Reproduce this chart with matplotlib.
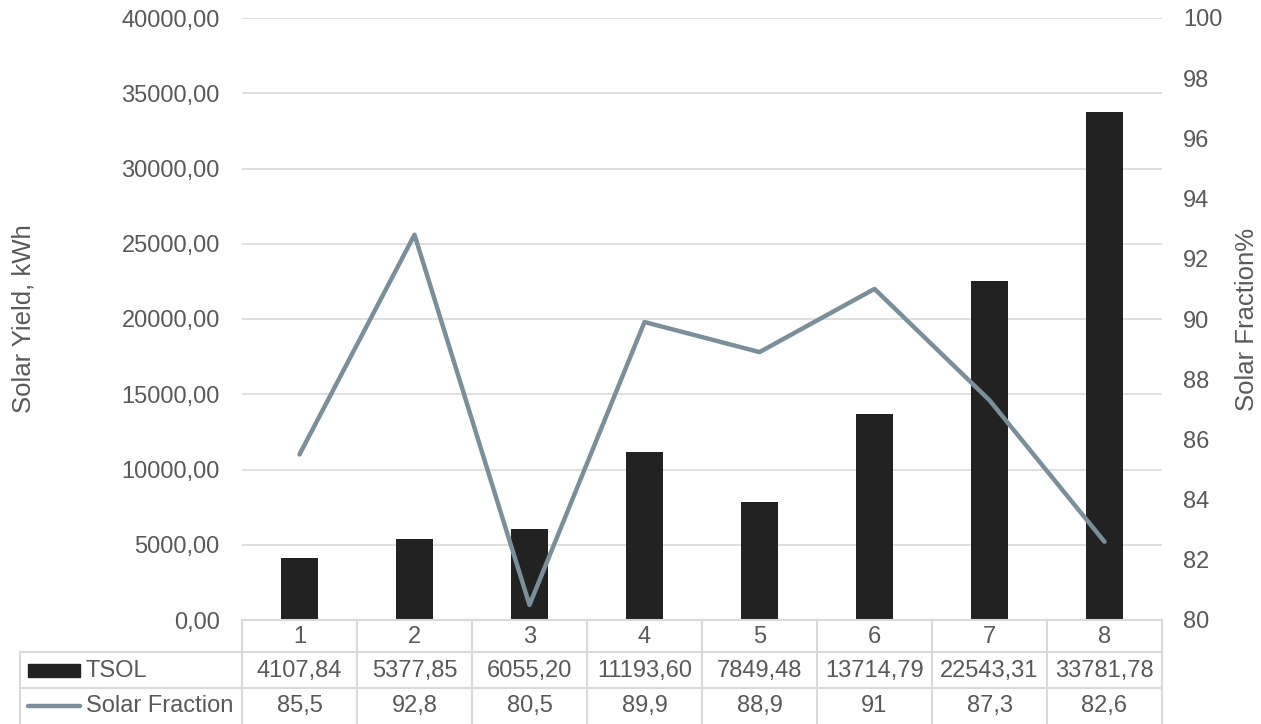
import matplotlib
matplotlib.use("Agg")
import matplotlib.pyplot as plt
from matplotlib.ticker import FuncFormatter
from matplotlib.patches import Rectangle
from matplotlib.lines import Line2D

categories = ["1", "2", "3", "4", "5", "6", "7", "8"]
tsol = [4107.84, 5377.85, 6055.20, 11193.60, 7849.48, 13714.79, 22543.31, 33781.78]
tsol_labels = ["4107,84", "5377,85", "6055,20", "11193,60", "7849,48", "13714,79", "22543,31", "33781,78"]
solar_fraction = [85.5, 92.8, 80.5, 89.9, 88.9, 91, 87.3, 82.6]
sf_labels = ["85,5", "92,8", "80,5", "89,9", "88,9", "91", "87,3", "82,6"]

plt.rcParams['font.family'] = ['Liberation Sans', 'DejaVu Sans']
TXT = '#595959'
GRID = '#D9D9D9'
BAR = '#222222'
LINE = '#7A8F99'
FS = 17
FT = 18.5

W, H = 1261, 724
fig = plt.figure(figsize=(W / 100, H / 100), dpi=100)

L, R, T, B = 242, 1162, 18, 620
ax = fig.add_axes([L / W, (H - B) / H, (R - L) / W, (B - T) / H])
x = list(range(len(categories)))
ax.bar(x, tsol, width=0.32, color=BAR, zorder=2)
ax.set_xlim(-0.5, len(categories) - 0.5)
ax.set_ylim(0, 40000)
ax.set_yticks(range(0, 40001, 5000))
ax.yaxis.set_major_formatter(FuncFormatter(lambda v, p: f"{v:.2f}".replace('.', ',')))
ax.grid(axis='y', color=GRID, linewidth=1.2, zorder=0)
for s in ax.spines.values():
    s.set_visible(False)
ax.tick_params(axis='y', length=0, pad=16, labelsize=FS, labelcolor=TXT)
ax.set_xticks([])
ax.set_ylabel("Solar Yield, kWh", fontsize=FT, color=TXT, va='center')
ax.yaxis.set_label_coords(-(L - 23) / (R - L), 0.5)

ax2 = ax.twinx()
ax2.plot(x, solar_fraction, color=LINE, linewidth=3.2, solid_joinstyle='round', solid_capstyle='round', zorder=3)
ax2.set_ylim(80, 100)
ax2.set_yticks(range(80, 101, 2))
for s in ax2.spines.values():
    s.set_visible(False)
ax2.tick_params(axis='y', length=0, pad=15, labelsize=FS, labelcolor=TXT)
ax2.set_ylabel("Solar Fraction%", fontsize=FT, color=TXT, va='center')
ax2.yaxis.set_label_coords(1 + (1247 - R) / (R - L), 0.5)

# data table
tax = fig.add_axes([L / W, 0, (R - L) / W, (H - B) / H])
tax.set_xlim(-0.5, len(categories) - 0.5)
tax.set_ylim(H, B)
tax.axis('off')
px = (R - L) / len(categories)
def dx(p):
    return -0.5 + (p - L) / px
xl = dx(20)
xr = len(categories) - 0.5
rows = [619.5, 652, 688, 726]
kw = dict(color=GRID, linewidth=1.5, clip_on=False)
tax.add_line(Line2D([-0.5, xr], [rows[0], rows[0]], **kw))
for yy in rows[1:]:
    tax.add_line(Line2D([xl, xr], [yy, yy], **kw))
for i in range(len(categories) + 1):
    xx = -0.5 + i
    tax.add_line(Line2D([xx, xx], [rows[0], rows[3]], **kw))
tax.add_line(Line2D([xl, xl], [rows[1], rows[3]], **kw))

for i, c in enumerate(categories):
    tax.text(i, 637, c, ha='center', va='center', fontsize=FS, color=TXT, clip_on=False)
    tax.text(i, 671, tsol_labels[i], ha='center', va='center', fontsize=FS, color=TXT, clip_on=False)
    tax.text(i, 706, sf_labels[i], ha='center', va='center', fontsize=FS, color=TXT, clip_on=False)

tax.add_patch(Rectangle((dx(28), 664), dx(80) - dx(28), 13, color=BAR, clip_on=False))
tax.text(dx(86), 671, "TSOL", ha='left', va='center', fontsize=FS, color=TXT, clip_on=False)
tax.add_line(Line2D([dx(28), dx(80)], [706, 706], color=LINE, linewidth=3.2, solid_capstyle='round', clip_on=False))
tax.text(dx(86), 706, "Solar Fraction", ha='left', va='center', fontsize=FS, color=TXT, clip_on=False)

fig.savefig("out.png", dpi=100)
